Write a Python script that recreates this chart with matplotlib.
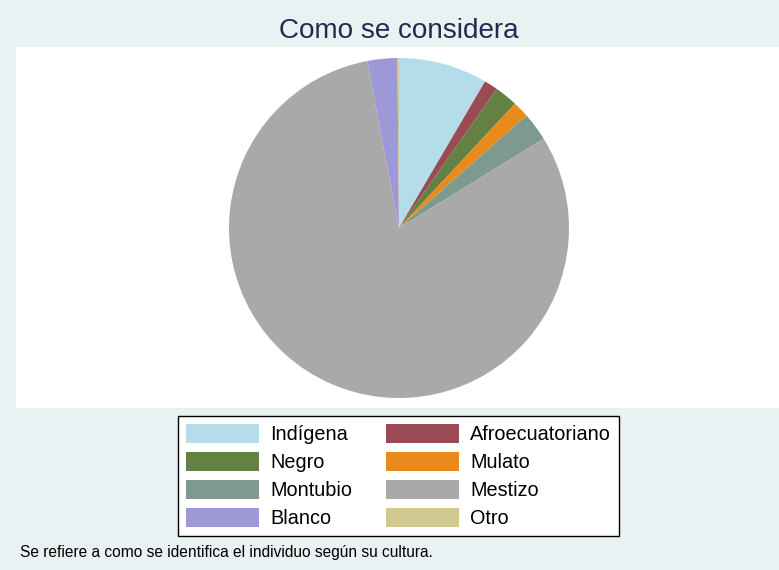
import matplotlib.pyplot as plt
from matplotlib.patches import Patch

plt.rcParams['font.family'] = ['Liberation Sans', 'DejaVu Sans']

# Data (shares, in %)
labels = ["Indígena", "Afroecuatoriano", "Negro", "Mulato",
          "Montubio", "Mestizo", "Blanco", "Otro"]
shares = [8.45, 1.3, 2.2, 1.55, 2.7, 80.8, 2.85, 0.15]
colors = ["#b4dde9", "#9a4a52", "#648042", "#e88b1c",
          "#7e9a8e", "#a9a9a9", "#9e98d6", "#cfc98f"]

TITLE = "Como se considera"
NOTE = "Se refiere a como se identifica el individuo según su cultura."
BG = "#e9f1f3"

W, H = 779, 570
fig = plt.figure(figsize=(W / 100, H / 100), dpi=100, facecolor=BG)

# white plot region, in pixel units
x0, x1, ytop, ybot = 16, 779, 47, 408
ax = fig.add_axes([x0 / W, 1 - ybot / H, (x1 - x0) / W, (ybot - ytop) / H])
ax.set_facecolor("white")
ax.pie(shares, colors=colors, startangle=90, counterclock=False,
       center=(399, H - 228), radius=170, frame=True,
       wedgeprops=dict(linewidth=0))
ax.set_aspect("auto")
ax.set_xlim(x0, x1)
ax.set_ylim(H - ybot, H - ytop)
ax.set_xticks([])
ax.set_yticks([])
for s in ax.spines.values():
    s.set_visible(False)

fig.text(399 / W, 1 - 31 / H, TITLE, ha="center", va="center",
         fontsize=20.1, color="#1e2d4d")

# legend: rows are pairs, matplotlib fills by column
order = [0, 2, 4, 6, 1, 3, 5, 7]
handles = [Patch(facecolor=colors[i], edgecolor="none") for i in order]
leg = fig.legend(handles, [labels[i] for i in order], ncol=2,
                 loc="center", bbox_to_anchor=(398.5 / W, 1 - 476 / H),
                 fontsize=14.3, frameon=True, fancybox=False, framealpha=1,
                 handlelength=3.7, handleheight=1.1, columnspacing=1.7,
                 handletextpad=0.55, labelspacing=0.4, borderpad=0.4)
leg.get_frame().set_edgecolor("black")
leg.get_frame().set_facecolor("white")
leg.get_frame().set_linewidth(1.0)

fig.text(20 / W, 1 - 553 / H, NOTE, ha="left", va="center",
         fontsize=11.2, color="black")

fig.savefig("out.png", dpi=100, facecolor=BG)
